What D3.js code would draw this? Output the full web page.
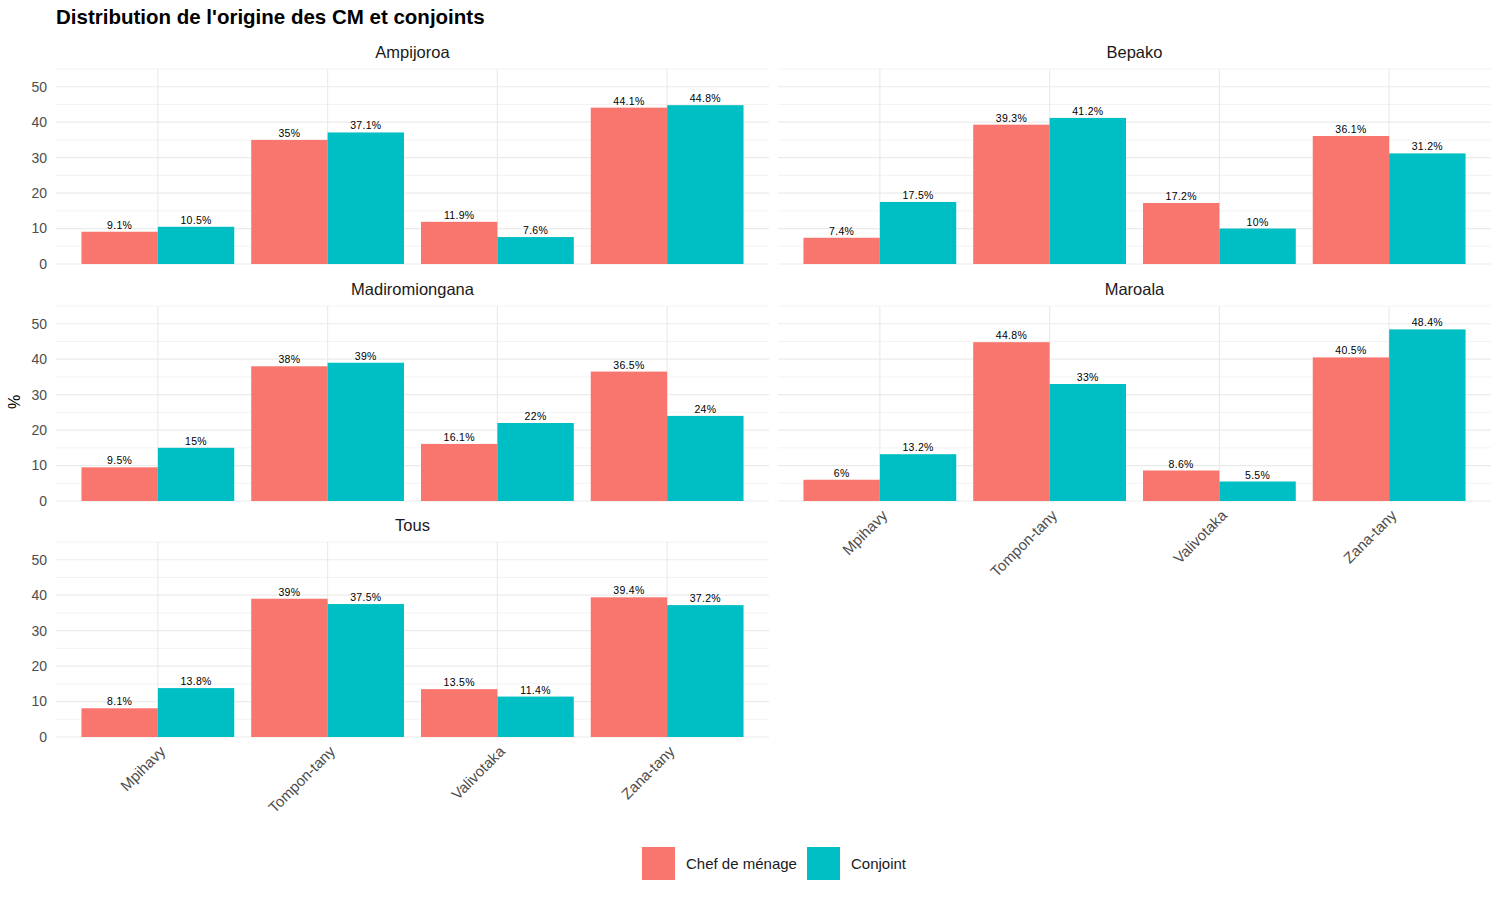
<!DOCTYPE html>
<html>
<head>
<meta charset="utf-8">
<script src="https://cdn.jsdelivr.net/npm/d3@7"></script>
<style>
  body { margin: 0; background: #fff; }
  text { font-family: Arial, "Liberation Sans", sans-serif; }
</style>
</head>
<body>
<svg id="chart" width="1500" height="900"></svg>
<script>
const categories = ["Mpihavy", "Tompon-tany", "Valivotaka", "Zana-tany"]
const series = ["Chef de ménage", "Conjoint"]
const colors = ["#F8766D", "#00BFC4"]
const panels = ["Ampijoroa", "Bepako", "Madiromiongana", "Maroala", "Tous"]

// values per panel, [chef, conjoint], in category order
const chefValues = {
  "Ampijoroa": [9.1, 35, 11.9, 44.1],
  "Bepako": [7.4, 39.3, 17.2, 36.1],
  "Madiromiongana": [9.5, 38, 16.1, 36.5],
  "Maroala": [6, 44.8, 8.6, 40.5],
  "Tous": [8.1, 39, 13.5, 39.4]
}
const conjointValues = {
  "Ampijoroa": [10.5, 37.1, 7.6, 44.8],
  "Bepako": [17.5, 41.2, 10, 31.2],
  "Madiromiongana": [15, 39, 22, 24],
  "Maroala": [13.2, 33, 5.5, 48.4],
  "Tous": [13.8, 37.5, 11.4, 37.2]
}
const majorTicks = [0, 10, 20, 30, 40, 50]
const minorTicks = [5, 15, 25, 35, 45, 55]

const svg = d3.select("#chart")

svg.append("text")
  .attr("x", 56).attr("y", 24)
  .attr("font-size", 20.5).attr("font-weight", "bold").attr("fill", "#000")
  .text("Distribution de l'origine des CM et conjoints")

svg.append("text")
  .attr("transform", "translate(20,402) rotate(-90)")
  .attr("text-anchor", "middle").attr("font-size", 16).attr("fill", "#000")
  .text("%")

const colX = [56, 778]
const panelW = 713
const rowTop = [69, 306, 542]
const panelH = 195

const y = d3.scaleLinear().domain([0, 55]).range([panelH, 0])
// ggplot discrete expansion: 0.6 units each side
const x = d3.scalePoint().domain(categories).range([panelW * 0.6 / 4.2, panelW * 3.6 / 4.2])
const step = panelW / 4.2
const barW = step * 0.9 / 2

panels.forEach((name, i) => {
  const col = i % 2, row = Math.floor(i / 2)
  const g = svg.append("g").attr("transform", `translate(${colX[col]},${rowTop[row]})`)

  g.append("text")
    .attr("x", panelW / 2).attr("y", -11)
    .attr("text-anchor", "middle").attr("font-size", 16.5).attr("fill", "#1a1a1a")
    .text(name)

  g.selectAll(".minor").data(minorTicks).join("line")
    .attr("x1", 0).attr("x2", panelW)
    .attr("y1", d => y(d)).attr("y2", d => y(d))
    .attr("stroke", "#ebebeb").attr("stroke-width", 0.6)
  g.selectAll(".major").data(majorTicks).join("line")
    .attr("x1", 0).attr("x2", panelW)
    .attr("y1", d => y(d)).attr("y2", d => y(d))
    .attr("stroke", "#ebebeb").attr("stroke-width", 1.2)
  g.selectAll(".vgrid").data(categories).join("line")
    .attr("x1", d => x(d)).attr("x2", d => x(d))
    .attr("y1", 0).attr("y2", panelH)
    .attr("stroke", "#ebebeb").attr("stroke-width", 1.2)

  if (col === 0) {
    g.selectAll(".ytick").data(majorTicks).join("text")
      .attr("x", -9).attr("y", d => y(d)).attr("dy", "0.35em")
      .attr("text-anchor", "end").attr("font-size", 14).attr("fill", "#4d4d4d")
      .text(d => d)
  }

  const rows = []
  categories.forEach((c, k) => {
    rows.push({ c, s: 0, v: chefValues[name][k] })
    rows.push({ c, s: 1, v: conjointValues[name][k] })
  })

  g.selectAll(".bar").data(rows).join("rect")
    .attr("x", d => x(d.c) - barW + d.s * barW)
    .attr("width", barW)
    .attr("y", d => y(d.v))
    .attr("height", d => y(0) - y(d.v))
    .attr("fill", d => colors[d.s])

  g.selectAll(".lbl").data(rows).join("text")
    .attr("x", d => x(d.c) - barW / 2 + d.s * barW)
    .attr("y", d => y(d.v) - 3)
    .attr("text-anchor", "middle").attr("font-size", 10.5).attr("fill", "#000")
    .attr("letter-spacing", 0.3)
    .text(d => d.v + "%")

  const isBottom = (name === "Tous" || name === "Maroala")
  if (isBottom) {
    g.selectAll(".xl").data(categories).join("text")
      .attr("transform", d => `translate(${x(d) + 1},${panelH + 8}) rotate(-45)`)
      .attr("text-anchor", "end").attr("dy", "0.7em")
      .attr("font-size", 15).attr("fill", "#4d4d4d")
      .text(d => d)
  }
})

// legend
const legend = svg.append("g").attr("transform", "translate(642,847)")
const legX = [0, 165]
series.forEach((s, i) => {
  legend.append("rect").attr("x", legX[i]).attr("y", 0)
    .attr("width", 33).attr("height", 33).attr("fill", colors[i])
  legend.append("text").attr("x", legX[i] + 44).attr("y", 17).attr("dy", "0.35em")
    .attr("font-size", 15).attr("fill", "#1a1a1a").text(s)
})
</script>
</body>
</html>
